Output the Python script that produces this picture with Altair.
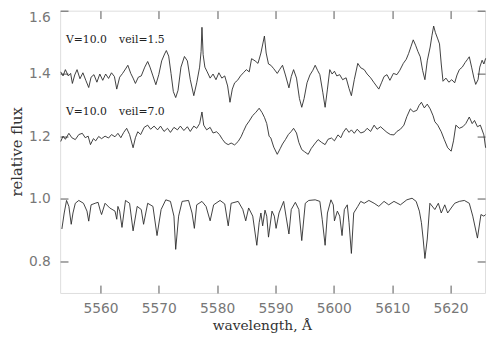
import altair as alt
import pandas as pd

# ---- data ----
wl_veil15 = [5553.2, 5553.6, 5554.0, 5554.5, 5554.9, 5555.2, 5555.6, 5556.0, 5556.5, 5557.0, 5557.5, 5558.0, 5558.4, 5558.9, 5559.4, 5559.9, 5560.4, 5560.9, 5561.4, 5561.9, 5562.4, 5562.8, 5563.3, 5563.8, 5564.3, 5564.7, 5565.2, 5565.6, 5566.0, 5566.5, 5567.0, 5567.6, 5568.1, 5568.5, 5569.0, 5569.5, 5570.0, 5570.5, 5571.0, 5571.3, 5571.7, 5572.1, 5572.5, 5572.9, 5573.3, 5573.8, 5574.4, 5574.9, 5575.4, 5576.0, 5576.5, 5577.0, 5577.25, 5577.4, 5577.6, 5577.9, 5578.3, 5578.8, 5579.3, 5579.8, 5580.3, 5580.8, 5581.3, 5581.8, 5582.2, 5582.6, 5583.0, 5583.5, 5584.0, 5584.5, 5585.0, 5585.5, 5585.9, 5586.5, 5587.0, 5587.5, 5588.1, 5588.4, 5588.8, 5589.2, 5589.7, 5590.3, 5590.7, 5591.2, 5591.7, 5592.3, 5592.7, 5593.1, 5593.6, 5594.1, 5594.5, 5594.9, 5595.4, 5595.9, 5596.4, 5596.8, 5597.2, 5597.6, 5598.1, 5598.5, 5598.9, 5599.3, 5599.7, 5600.1, 5600.5, 5601.0, 5601.5, 5602.1, 5602.6, 5603.0, 5603.5, 5604.1, 5604.6, 5605.2, 5605.7, 5606.3, 5606.9, 5607.3, 5607.7, 5608.2, 5608.6, 5609.1, 5609.6, 5610.2, 5610.8, 5611.3, 5611.9, 5612.4, 5612.8, 5613.2, 5613.6, 5614.0, 5614.4, 5614.8, 5615.2, 5615.6, 5616.0, 5616.5, 5616.8, 5617.1, 5617.4, 5617.8, 5618.1, 5618.4, 5618.7, 5619.2, 5619.7, 5620.2, 5620.7, 5621.1, 5621.5, 5622.0, 5622.5, 5622.9, 5623.2, 5623.6, 5624.0, 5624.3, 5624.7, 5625.0, 5625.4, 5625.7, 5626.0]
flux_veil15 = [1.405, 1.392, 1.412, 1.392, 1.400, 1.368, 1.395, 1.412, 1.383, 1.402, 1.378, 1.355, 1.388, 1.396, 1.372, 1.398, 1.378, 1.398, 1.384, 1.402, 1.390, 1.350, 1.388, 1.400, 1.414, 1.426, 1.400, 1.385, 1.368, 1.388, 1.392, 1.420, 1.438, 1.420, 1.392, 1.364, 1.396, 1.440, 1.462, 1.473, 1.455, 1.400, 1.342, 1.323, 1.346, 1.420, 1.454, 1.440, 1.380, 1.329, 1.370, 1.420, 1.470, 1.547, 1.460, 1.420, 1.405, 1.385, 1.398, 1.380, 1.402, 1.385, 1.392, 1.360, 1.308, 1.350, 1.370, 1.378, 1.392, 1.402, 1.412, 1.405, 1.447, 1.440, 1.432, 1.465, 1.519, 1.465, 1.430, 1.426, 1.415, 1.400, 1.412, 1.426, 1.395, 1.354, 1.390, 1.412, 1.385, 1.320, 1.292, 1.320, 1.370, 1.395, 1.410, 1.426, 1.410, 1.396, 1.340, 1.292, 1.350, 1.412, 1.398, 1.407, 1.392, 1.396, 1.380, 1.386, 1.352, 1.329, 1.380, 1.432, 1.418, 1.412, 1.398, 1.386, 1.370, 1.360, 1.350, 1.372, 1.390, 1.396, 1.378, 1.400, 1.396, 1.410, 1.432, 1.445, 1.463, 1.485, 1.507, 1.490, 1.470, 1.453, 1.410, 1.380, 1.440, 1.484, 1.520, 1.551, 1.530, 1.510, 1.494, 1.430, 1.375, 1.385, 1.372, 1.380, 1.370, 1.395, 1.412, 1.420, 1.435, 1.445, 1.453, 1.420, 1.385, 1.365, 1.380, 1.420, 1.442, 1.430, 1.448]

wl_veil70 = [5553.2, 5553.6, 5554.0, 5554.6, 5555.1, 5555.7, 5556.3, 5556.9, 5557.4, 5557.9, 5558.3, 5558.8, 5559.2, 5559.7, 5560.2, 5560.8, 5561.4, 5561.9, 5562.5, 5563.0, 5563.5, 5564.0, 5564.5, 5565.0, 5565.6, 5566.0, 5566.4, 5566.9, 5567.5, 5568.1, 5568.6, 5569.2, 5569.8, 5570.3, 5570.9, 5571.5, 5572.0, 5572.6, 5573.2, 5573.7, 5574.3, 5574.9, 5575.4, 5576.0, 5576.5, 5577.0, 5577.4, 5577.7, 5578.2, 5578.8, 5579.3, 5579.9, 5580.4, 5580.9, 5581.4, 5581.9, 5582.4, 5583.0, 5583.6, 5584.1, 5584.5, 5585.0, 5585.5, 5586.1, 5586.6, 5587.2, 5587.7, 5588.1, 5588.5, 5588.9, 5589.2, 5589.7, 5590.3, 5590.8, 5591.2, 5591.7, 5592.2, 5592.7, 5593.1, 5593.6, 5594.0, 5594.5, 5595.0, 5595.6, 5596.1, 5596.7, 5597.3, 5597.9, 5598.5, 5599.0, 5599.6, 5600.1, 5600.7, 5601.2, 5601.6, 5602.1, 5602.6, 5603.0, 5603.5, 5604.0, 5604.6, 5605.2, 5605.7, 5606.3, 5606.9, 5607.4, 5608.0, 5608.6, 5609.1, 5609.7, 5610.3, 5610.8, 5611.4, 5612.0, 5612.5, 5613.1, 5613.6, 5614.2, 5614.6, 5615.0, 5615.5, 5616.0, 5616.5, 5617.0, 5617.3, 5617.8, 5618.4, 5618.9, 5619.5, 5620.1, 5620.5, 5620.9, 5621.5, 5622.1, 5622.6, 5623.2, 5623.7, 5624.1, 5624.6, 5625.1, 5625.7, 5626.0]
flux_veil70 = [1.183, 1.200, 1.190, 1.209, 1.195, 1.189, 1.205, 1.209, 1.195, 1.200, 1.173, 1.192, 1.185, 1.199, 1.192, 1.200, 1.194, 1.205, 1.198, 1.209, 1.195, 1.212, 1.225, 1.205, 1.163, 1.195, 1.214, 1.205, 1.228, 1.235, 1.222, 1.232, 1.220, 1.232, 1.215, 1.225, 1.212, 1.228, 1.220, 1.232, 1.218, 1.230, 1.215, 1.232, 1.225, 1.240, 1.277, 1.235, 1.220, 1.228, 1.210, 1.214, 1.205, 1.190, 1.178, 1.173, 1.178, 1.172, 1.183, 1.198, 1.215, 1.235, 1.248, 1.266, 1.275, 1.289, 1.275, 1.260, 1.240, 1.200, 1.194, 1.165, 1.142, 1.160, 1.175, 1.189, 1.205, 1.215, 1.225, 1.210, 1.180, 1.157, 1.150, 1.142, 1.160, 1.175, 1.189, 1.180, 1.173, 1.190, 1.194, 1.185, 1.204, 1.195, 1.212, 1.225, 1.212, 1.220, 1.209, 1.222, 1.210, 1.214, 1.225, 1.215, 1.235, 1.222, 1.230, 1.220, 1.212, 1.205, 1.204, 1.215, 1.222, 1.235, 1.262, 1.287, 1.278, 1.282, 1.298, 1.308, 1.290, 1.302, 1.287, 1.265, 1.246, 1.235, 1.214, 1.190, 1.163, 1.152, 1.185, 1.235, 1.225, 1.230, 1.240, 1.261, 1.240, 1.250, 1.230, 1.235, 1.204, 1.163]

wl_model = [5553.4, 5553.8, 5554.2, 5554.6, 5555.0, 5555.3, 5555.7, 5556.3, 5557.1, 5557.7, 5558.0, 5558.4, 5559.1, 5559.6, 5560.0, 5560.2, 5560.8, 5561.6, 5562.5, 5562.8, 5563.0, 5563.3, 5563.7, 5564.3, 5565.0, 5565.6, 5566.3, 5567.0, 5567.4, 5568.1, 5569.0, 5569.7, 5570.4, 5571.2, 5572.0, 5572.6, 5572.9, 5573.4, 5574.0, 5575.1, 5575.7, 5576.1, 5576.5, 5577.4, 5578.1, 5578.8, 5579.4, 5580.5, 5581.3, 5581.9, 5582.4, 5583.6, 5584.4, 5584.9, 5585.4, 5586.1, 5586.8, 5587.2, 5587.5, 5587.8, 5588.2, 5588.5, 5588.8, 5589.4, 5589.8, 5590.1, 5590.6, 5591.4, 5591.8, 5592.3, 5592.7, 5593.4, 5594.0, 5594.5, 5595.1, 5595.7, 5596.8, 5597.6, 5598.0, 5598.5, 5598.9, 5599.5, 5599.9, 5600.1, 5600.6, 5601.0, 5601.4, 5601.8, 5602.3, 5602.6, 5603.0, 5603.4, 5604.1, 5604.6, 5605.2, 5606.0, 5606.9, 5607.7, 5608.6, 5609.4, 5610.3, 5611.4, 5612.5, 5613.4, 5614.1, 5614.65, 5615.0, 5615.3, 5615.6, 5616.0, 5616.45, 5617.3, 5617.9, 5618.4, 5619.0, 5619.5, 5620.1, 5620.7, 5621.5, 5622.35, 5623.2, 5623.8, 5624.6, 5625.2, 5625.7, 5626.0]
flux_model = [0.904, 0.955, 0.995, 0.976, 0.919, 0.955, 0.986, 0.995, 0.986, 0.961, 0.929, 0.981, 0.986, 0.989, 0.961, 0.950, 0.986, 0.971, 0.961, 0.935, 0.976, 0.961, 0.909, 0.995, 0.986, 0.898, 0.976, 0.966, 0.919, 0.986, 0.976, 0.883, 0.966, 0.997, 0.992, 0.945, 0.839, 0.945, 0.992, 0.995, 0.955, 0.906, 0.981, 0.992, 0.976, 0.930, 0.981, 0.995, 0.984, 0.914, 0.986, 0.992, 0.966, 0.930, 0.971, 0.945, 0.852, 0.924, 0.955, 0.914, 0.964, 0.945, 0.878, 0.961, 0.945, 0.906, 0.955, 0.992, 0.945, 0.888, 0.966, 0.989, 0.966, 0.867, 0.986, 0.995, 0.997, 0.992, 0.935, 0.852, 0.955, 0.997, 0.981, 0.930, 0.961, 0.945, 0.883, 0.966, 0.981, 0.924, 0.826, 0.955, 0.976, 0.992, 0.986, 0.995, 0.986, 0.976, 0.992, 0.981, 0.992, 0.981, 0.997, 1.002, 0.992, 0.961, 0.924, 0.872, 0.810, 0.872, 0.986, 0.966, 0.986, 0.955, 0.981, 0.955, 0.971, 0.986, 0.992, 0.995, 0.986, 0.945, 0.875, 0.950, 0.945, 0.950]

label_text = ["V=10.0", "veil=1.5", "V=10.0", "veil=7.0"]
label_wl = [5554.1, 5563.2, 5554.1, 5563.2]
label_flux = [1.505, 1.505, 1.278, 1.278]

x_ticks = [5560, 5570, 5580, 5590, 5600, 5610, 5620]
y_ticks = [0.8, 1.0, 1.2, 1.4, 1.6]

# ---- tables ----
spec = pd.concat([
    pd.DataFrame({"wl": wl_veil15, "flux": flux_veil15, "series": "veil15"}),
    pd.DataFrame({"wl": wl_veil70, "flux": flux_veil70, "series": "veil70"}),
    pd.DataFrame({"wl": wl_model, "flux": flux_model, "series": "model"}),
], ignore_index=True)
labels = pd.DataFrame({"text": label_text, "wl": label_wl, "flux": label_flux})

x_scale = alt.Scale(domain=[5553.1, 5625.9], nice=False, zero=False)
y_scale = alt.Scale(domain=[0.7, 1.6], nice=False, zero=False)

tick_col = "#555555"
lab_col = "#777777"

x_bottom = alt.Axis(orient="bottom", values=x_ticks, offset=-8, tickSize=8, domain=False,
                    grid=False, tickColor=tick_col, labelPadding=9, labelFont="DejaVu Sans",
                    labelFontSize=14, labelColor=lab_col, format="d", title="wavelength, Å",
                    titleFont="DejaVu Serif", titleFontSize=14, titleFontWeight="normal",
                    titleColor="#333333", titleX=205, titleY=45, titleBaseline="alphabetic",
                    titleAlign="center")
y_left = alt.Axis(orient="left", values=y_ticks, offset=-8, tickSize=8, domain=False,
                  grid=False, tickColor=tick_col, labelPadding=10, labelFont="DejaVu Sans",
                  labelFontSize=14, labelColor=lab_col, format=".1f", labelFlush=True,
                  title="relative flux", titleFont="DejaVu Serif", titleFontSize=15,
                  titleFontWeight="normal", titleColor="#333333", titleX=-52, titleY=143,
                  titleBaseline="middle", titleAlign="center", titleAngle=270)
x_top = alt.Axis(orient="top", values=x_ticks, offset=-8, tickSize=8, domain=False,
                 grid=False, tickColor=tick_col, labels=False, title=None)
y_right = alt.Axis(orient="right", values=y_ticks, offset=-8, tickSize=8, domain=False,
                   grid=False, tickColor=tick_col, labels=False, title=None)

lines = alt.Chart(spec).mark_line(color="#2a2a2a", strokeWidth=0.9).encode(
    x=alt.X("wl:Q", scale=x_scale, axis=x_bottom),
    y=alt.Y("flux:Q", scale=y_scale, axis=y_left),
    detail="series:N",
    order="wl:Q",
)

texts = alt.Chart(labels).mark_text(align="left", baseline="middle", font="DejaVu Serif",
                                    fontSize=11, color="#222222").encode(
    x=alt.X("wl:Q", scale=x_scale, axis=x_top),
    y=alt.Y("flux:Q", scale=y_scale, axis=y_right),
    text="text:N",
)

chart = alt.layer(lines, texts).resolve_axis(x="independent", y="independent").properties(
    width=432, height=287,
    autosize=alt.AutoSizeParams(type="none"),
    padding={"left": 53, "top": 0, "right": 2, "bottom": 40},
).configure_view(stroke="#555555", strokeWidth=1).configure(background="white")

chart.save("out.html", embed_options={"renderer": "svg", "actions": False})
